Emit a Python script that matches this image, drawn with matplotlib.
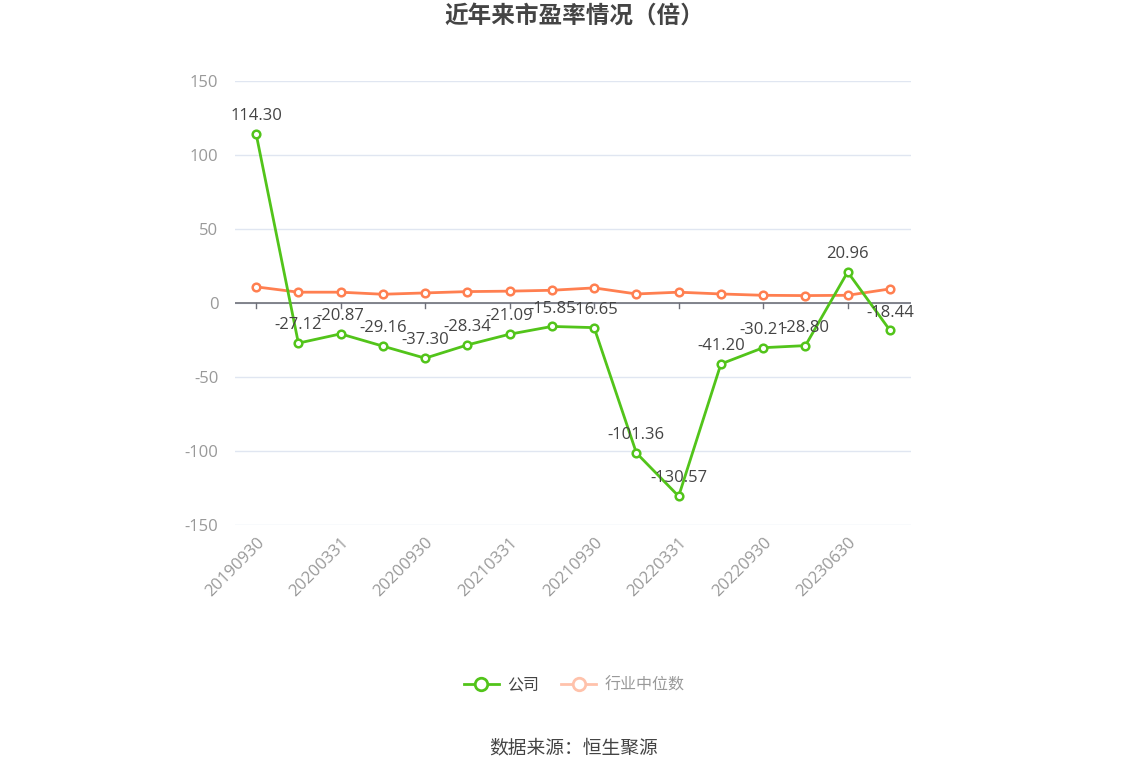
import matplotlib
matplotlib.use("Agg")
import matplotlib.pyplot as plt
from matplotlib.lines import Line2D
import numpy as np

plt.rcParams['font.family'] = ['Open Sans', 'Noto Sans CJK SC', 'DejaVu Sans']
plt.rcParams['axes.unicode_minus'] = False

# data
dates = ["20190930", "20191231", "20200331", "20200630", "20200930", "20201231",
         "20210331", "20210630", "20210930", "20211231", "20220331", "20220630",
         "20220930", "20221231", "20230630", "20230930"]
company = [114.30, -27.12, -20.87, -29.16, -37.30, -28.34, -21.09, -15.85,
           -16.65, -101.36, -130.57, -41.20, -30.21, -28.80, 20.96, -18.44]
industry = [10.9, 7.3, 7.3, 5.9, 6.8, 7.7, 8.0, 8.6,
            10.2, 6.1, 7.3, 6.1, 5.2, 5.0, 5.2, 9.5]

green = "#52c41a"
orange = "#ff7f50"

fig = plt.figure(figsize=(11.48, 7.76), dpi=100)
ax = fig.add_axes([0.2047, 0.3235, 0.5889, 0.5721])

x = np.arange(len(dates))
ax.plot(x, industry, color=orange, lw=2, marker="o", ms=5.5, mfc="white",
        mec=orange, mew=1.8, zorder=3)
ax.plot(x, company, color=green, lw=2, marker="o", ms=5.5, mfc="white",
        mec=green, mew=1.8, zorder=4)

for xi, v in zip(x, company):
    ax.annotate(f"{v:.2f}", (xi, v), xytext=(0, 7), textcoords="offset points",
                ha="center", va="bottom", fontsize=12, color="#444444", zorder=5)

ax.set_xlim(-0.5, len(dates) - 0.5)
ax.set_ylim(-150, 150)
ax.set_yticks([-150, -100, -50, 0, 50, 100, 150])
ax.grid(axis="y", color="#e0e6f1", lw=1)
ax.set_axisbelow(True)
for s in ["top", "right", "left", "bottom"]:
    ax.spines[s].set_visible(False)
ax.axhline(0, color="#6e7079", lw=1.2, zorder=2)

ax.set_xticks(x[::2])
ax.set_xticklabels(dates[::2], rotation=45, ha="right", rotation_mode="anchor",
                   fontsize=12, color="#999999")
ax.tick_params(axis="x", length=0, pad=7)
ax.tick_params(axis="y", length=0, labelsize=12, labelcolor="#999999", pad=12)
# small ticks on the zero line
for xi in x[::2]:
    ax.plot([xi, xi], [0, -3.5], color="#6e7079", lw=1, zorder=2)

fig.text(0.5, 0.978, "近年来市盈率情况（倍）", ha="center", va="center",
         fontsize=17, fontweight="bold", color="#444444")

handles = [
    Line2D([], [], color=green, lw=2, marker="o", ms=9, mfc="white", mec=green, mew=2),
    Line2D([], [], color="#ffc2ab", lw=2, marker="o", ms=9, mfc="white", mec="#ffc2ab", mew=2),
]
leg = fig.legend(handles, ["公司", "行业中位数"], loc="center", bbox_to_anchor=(0.5, 0.117),
                 ncol=2, frameon=False, fontsize=11.5, handlelength=2.2, columnspacing=1.4,
                 handletextpad=0.5)
leg.get_texts()[0].set_color("#444444")
leg.get_texts()[1].set_color("#999999")

fig.text(0.5, 0.036, "数据来源：恒生聚源", ha="center", va="center",
         fontsize=13.5, color="#444444")

fig.savefig("out.png", dpi=100)
